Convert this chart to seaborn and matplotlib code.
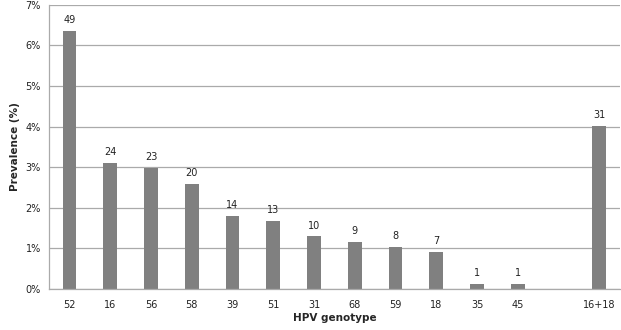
import numpy as np
import pandas as pd
import seaborn as sns
import matplotlib.pyplot as plt
from matplotlib.ticker import PercentFormatter, MultipleLocator

# Données : génotypes HPV, prévalence (%) et nombre de cas
genotypes = ['52', '16', '56', '58', '39', '51', '31', '68', '59', '18', '35', '45', ' ', '16+18']
prevalence = [6.35, 3.11, 2.98, 2.59, 1.81, 1.68, 1.30, 1.17, 1.04, 0.91, 0.13, 0.13, np.nan, 4.02]
counts = [49, 24, 23, 20, 14, 13, 10, 9, 8, 7, 1, 1, None, 31]

df = pd.DataFrame({'genotype': genotypes, 'prevalence': prevalence, 'n': counts})

sns.set_style('white')
plt.rcParams['font.family'] = ['DejaVu Sans']

fig = plt.figure(figsize=(6.21, 3.30), dpi=100)
ax = fig.add_axes([0.079, 0.124, 0.919, 0.862])

sns.barplot(data=df.dropna(), x='genotype', y='prevalence', order=genotypes,
            color='#808080', saturation=1, width=0.34, linewidth=0, ax=ax)

# étiquettes au-dessus des barres
for i, (v, n) in enumerate(zip(prevalence, counts)):
    if n is not None:
        ax.text(i, v + 0.14, str(n), ha='center', va='bottom', fontsize=7, color='#222222')

ax.set_ylim(0, 7)
ax.set_xlim(-0.5, len(genotypes) - 0.5)
ax.yaxis.set_major_locator(MultipleLocator(1))
ax.yaxis.set_major_formatter(PercentFormatter(decimals=0))
ax.grid(axis='y', color='#aaaaaa', linewidth=0.9)
ax.set_axisbelow(True)

for s in ['top', 'right']:
    ax.spines[s].set_visible(False)
for s in ['left', 'bottom']:
    ax.spines[s].set_color('#aaaaaa')
    ax.spines[s].set_linewidth(0.9)

ax.tick_params(axis='x', labelsize=7, colors='#222222', length=0, pad=8)
ax.tick_params(axis='y', labelsize=7, colors='#222222', length=0, pad=6)
ax.set_xlabel('HPV genotype', fontsize=7.5, fontweight='bold', labelpad=2)
ax.set_ylabel('Prevalence (%)', fontsize=7.5, fontweight='bold', labelpad=4)

plt.savefig('out.png', dpi=100)
